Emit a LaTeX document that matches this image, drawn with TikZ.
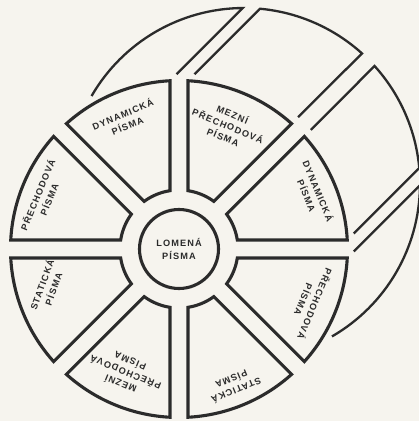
\documentclass[tikz,border=0pt]{standalone}
\usepackage{fontspec}
\usepackage{xcolor}
\usetikzlibrary{calc}
\newfontfamily\diskFont{Liberation Sans}[LetterSpace=12]
\definecolor{paperCream}{HTML}{F6F4EE}
\definecolor{inkGray}{HTML}{2B2B2B}
\tikzset{
  sector/.style={draw=inkGray, line width=3.1pt, line join=miter},
  backRim/.style={draw=inkGray, line width=2.3pt, line join=miter, line cap=butt},
  hub/.style={circle, draw=inkGray, line width=3.1pt, minimum size=79pt, inner sep=0pt, align=center, font=\diskFont\bfseries\fontsize{9.2}{13.5}\selectfont, text=inkGray},
  sectorText/.style={align=center, inner sep=0pt, font=\diskFont\bfseries\fontsize{9.2}{12.3}\selectfont, text=inkGray}
}

\begin{document}
\begin{tikzpicture}[x=1pt,y=1pt]

% --------------------------------------------------------------------------
% paper and frame
% --------------------------------------------------------------------------
\fill[paperCream] (-179,-172) rectangle (240,249);
\useasboundingbox (-179,-172) rectangle (240,249);
\clip (-179,-172) rectangle (240,249);

\def\gap{9}
\def\rin{59}
\def\rout{168.5}
\def\rback{176}
\pgfmathsetmacro\din{asin(\gap/\rin)}
\pgfmathsetmacro\dout{asin(\gap/\rout)}

% --------------------------------------------------------------------------
% back rim of the disc (seen behind, up and right)
% --------------------------------------------------------------------------
\coordinate (back) at (65,65);
\coordinate (vL) at ($(90+\dout:\rout)+(6.5,6.5)$);
\coordinate (vR) at ($(90-\dout:\rout)+(6.5,6.5)$);
\coordinate (dU) at ($(45+\dout:\rout)+(6.5,6.5)$);
\coordinate (dL) at ($(45-\dout:\rout)+(6.5,6.5)$);
\coordinate (hU) at ($(\dout:\rout)+(6.5,6.5)$);
\coordinate (hL) at ($(-\dout:\rout)+(6.5,6.5)$);

\draw[backRim] ($(back)+(150:\rback)$) arc[start angle=150, end angle=90.4, radius=\rback] -- (vL);
\draw[backRim] (vR) -- ($(back)+(84.8:\rback)$) arc[start angle=84.8, end angle=47.9, radius=\rback] -- (dU);
\draw[backRim] (dL) -- ($(back)+(42.1:\rback)$) arc[start angle=42.1, end angle=5.2, radius=\rback] -- (hU);
\draw[backRim] (hL) -- ($(back)+(-0.4:\rback)$) arc[start angle=-0.4, end angle=-60, radius=\rback];

% --------------------------------------------------------------------------
% eight sectors
% --------------------------------------------------------------------------
\foreach \i in {0,...,7}{
  \pgfmathsetmacro\a{45*\i}
  \draw[sector] ({\a+\din}:\rin) -- ({\a+\dout}:\rout)
    arc[start angle={\a+\dout}, end angle={\a+45-\dout}, radius=\rout]
    -- ({\a+45-\din}:\rin)
    arc[start angle={\a+45-\din}, end angle={\a+\din}, radius=\rin] -- cycle;
}

\node[hub] (hub) at (0,0) {LOMENÁ\\PÍSMA};

\node[sectorText, rotate=-67.5] (tDynR) at (22.7:145) {DYNAMICKÁ\\PÍSMA};
\node[sectorText, rotate=-22.5] (tMezR) at (68.4:133) {MEZNÍ\\PŘECHODOVÁ\\PÍSMA};
\node[sectorText, rotate=22.5] (tDynL) at (112.7:140) {DYNAMICKÁ\\PÍSMA};
\node[sectorText, rotate=67.5] (tPreL) at (159:145.6) {PŘECHODOVÁ\\PÍSMA};
\node[sectorText, rotate=70] (tStaL) at (196:137) {STATICKÁ\\PÍSMA};
\node[sectorText, rotate=157.5] (tMezB) at (246.5:135) {MEZNÍ\\PŘECHODOVÁ\\PÍSMA};
\node[sectorText, rotate=202.5] (tStaB) at (292:147) {STATICKÁ\\PÍSMA};
\node[sectorText, rotate=247.5] (tPreR) at (338:141) {PŘECHODOVÁ\\PÍSMA};

\end{tikzpicture}
\end{document}
